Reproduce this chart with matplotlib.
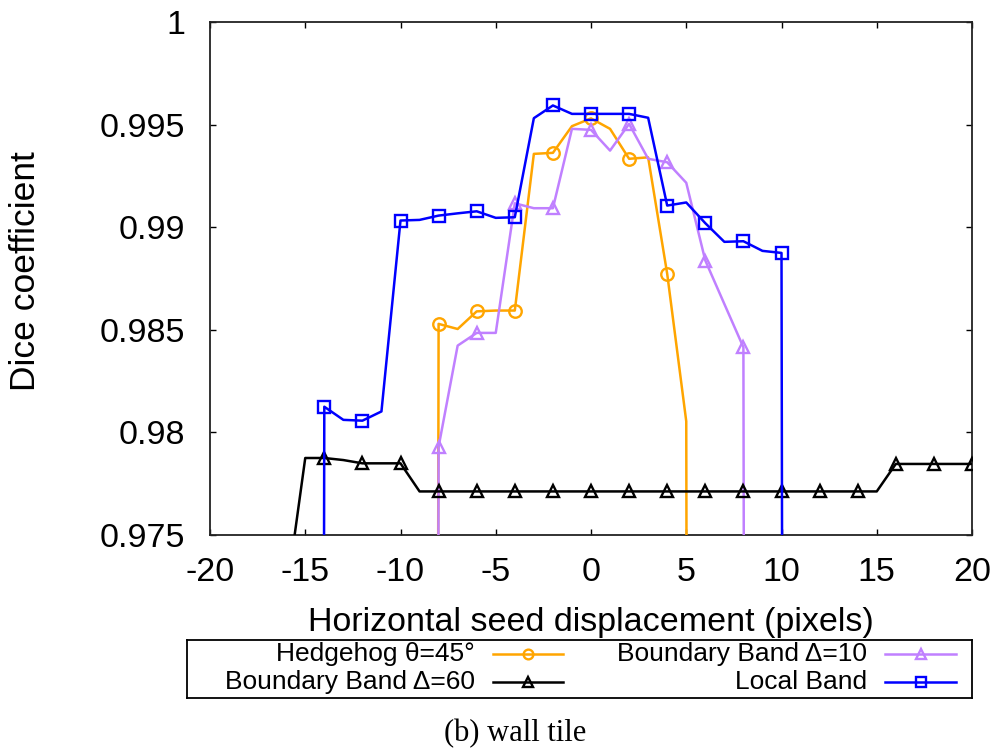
import matplotlib
matplotlib.use('Agg')
import matplotlib.pyplot as plt

plt.rcParams['font.family'] = ['Liberation Sans', 'DejaVu Sans']
plt.rcParams['axes.unicode_minus'] = False

# Dice coefficient vs horizontal seed displacement (wall tile)
# values every pixel, markers only on even displacements
x_hedgehog = list(range(-9, 7))
y_hedgehog = [0.5, 0.98528, 0.98503, 0.98589, 0.98593, 0.98593, 0.99357, 0.99362,
              0.99492, 0.9953, 0.99479, 0.99333, 0.99340, 0.98772, 0.98053, 0.5]

x_bb10 = list(range(-9, 10))
y_bb10 = [0.5, 0.97929, 0.98422, 0.98484, 0.98484, 0.99116, 0.99092, 0.99092,
          0.99479, 0.99474, 0.99373, 0.99503, 0.99333, 0.99316, 0.99216, 0.98837,
          0.98625, 0.98414, 0.5]

x_bb60 = list(range(-16, 21))
y_bb60 = [0.972, 0.97874, 0.97874, 0.97864, 0.97848, 0.97848, 0.97848] + \
         [0.97711] * 25 + [0.97845] * 5

x_local = list(range(-15, 12))
y_local = [0.5, 0.98124, 0.98060, 0.98056, 0.98101, 0.99032, 0.99035, 0.99056,
           0.99067, 0.99077, 0.99045, 0.99048, 0.99531, 0.99593, 0.99552, 0.99552,
           0.99552, 0.99552, 0.99533, 0.99105, 0.99120, 0.99019, 0.98928, 0.98931,
           0.98884, 0.98874, 0.5]

labels = ['Hedgehog θ=45°', 'Boundary Band Δ=10', 'Boundary Band Δ=60', 'Local Band']
colors = ['#ffa500', '#c080ff', 'black', 'blue']
markers = ['o', '^', '^', 's']

fig = plt.figure(figsize=(10.02, 7.52), dpi=100)
ax = fig.add_axes([210/1002, 1 - 534.7/752, 762/1002, 512.7/752])

series = [(x_hedgehog, y_hedgehog), (x_bb10, y_bb10), (x_bb60, y_bb60), (x_local, y_local)]
order = [2, 0, 1, 3]  # drawing order
for k in order:
    xs, ys = series[k]
    every = [i for i, xv in enumerate(xs) if xv % 2 == 0 and ys[i] >= 0.975]
    ax.plot(xs, ys, color=colors[k], lw=1.8, marker=markers[k], markevery=every,
            ms=9, mfc='none', mec=colors[k], mew=1.7, zorder=3 + k)

ax.set_xlim(-20, 20)
ax.set_ylim(0.975, 1.0)
ax.set_xticks(range(-20, 21, 5))
ax.set_yticks([0.975, 0.98, 0.985, 0.99, 0.995, 1.0])
ax.set_yticklabels(['0.975', '0.98', '0.985', '0.99', '0.995', '1'])
ax.tick_params(direction='in', length=4.5, width=1, top=True, right=True,
               labelsize=24.5)
ax.tick_params(axis='x', pad=16)
ax.tick_params(axis='y', pad=18)
for s in ax.spines.values():
    s.set_linewidth(1.3)
    s.set_color('#222222')

fig.text(591/1002, 1 - 631.5/752, 'Horizontal seed displacement (pixels)',
         ha='center', va='baseline', fontsize=24.5)
fig.text(26/1002, 1 - 271/752, 'Dice coefficient', rotation=90,
         ha='center', va='center', fontsize=25.5)

# legend box, gnuplot style: right aligned text, sample on the right
lax = fig.add_axes([187/1002, 1 - 698/752, 785/1002, 58/752])
lax.set_xlim(187, 972)
lax.set_ylim(698, 640)
lax.set_xticks([])
lax.set_yticks([])
for s in lax.spines.values():
    s.set_linewidth(1.3)
entries = [(0, 475, 493, 563, 654), (1, 867, 885, 956, 654),
           (2, 475, 493, 563, 682), (3, 867, 885, 956, 682)]
for k, tx, x0, x1, yy in entries:
    lax.text(tx, yy, labels[k], ha='right', va='center', fontsize=19)
    lax.plot([x0, (x0 + x1) / 2, x1], [yy, yy, yy], color=colors[k], lw=1.8,
             marker=markers[k], markevery=[1], ms=7, mfc='none', mec=colors[k], mew=1.7)

fig.text(515/1002, 1 - 741/752, '(b) wall tile', ha='center', va='baseline',
         fontsize=22, family='Liberation Serif')

fig.savefig('out.png', dpi=100)
